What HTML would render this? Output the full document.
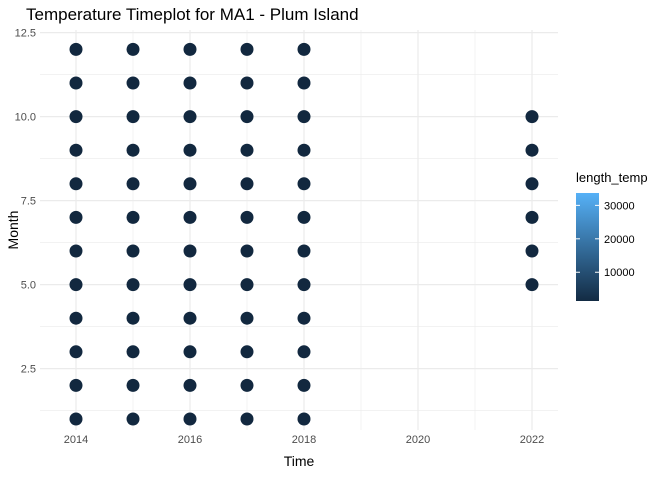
<!DOCTYPE html>
<html><head><meta charset="utf-8"><style>
body{margin:0;background:#fff;font-family:"Liberation Sans",sans-serif}
</style></head><body>
<svg width="672" height="480" xmlns="http://www.w3.org/2000/svg">
<defs><linearGradient id="g" x1="0" y1="1" x2="0" y2="0"><stop offset="0" stop-color="#132B43"/><stop offset="1" stop-color="#56B1F7"/></linearGradient></defs>
<text x="26" y="20" font-size="17" fill="#000">Temperature Timeplot for MA1 - Plum Island</text>
<g id="grid"></g><g id="pts"></g><g id="axes"></g>
<text x="299" y="466" font-size="14" text-anchor="middle">Time</text>
<text x="18" y="230" font-size="14" text-anchor="middle" transform="rotate(-90 18 230)">Month</text>
<g>
<text x="576" y="182" font-size="13">length_temp</text>
<rect x="576" y="193" width="23" height="108" fill="url(#g)"/>
<g id="leg"></g>
</g>
</svg>
<script>
const years=[2014,2015,2016,2017,2018,2022];
const monthsByYear=[[1,2,3,4,5,6,7,8,9,10,11,12],[1,2,3,4,5,6,7,8,9,10,11,12],[1,2,3,4,5,6,7,8,9,10,11,12],[1,2,3,4,5,6,7,8,9,10,11,12],[1,2,3,4,5,6,7,8,9,10,11,12],[5,6,7,8,9,10]];
const lengthTemp=[700,700,700,700,700,700];
const xTicks=[2014,2016,2018,2020,2022];
const yTicks=[2.5,5.0,7.5,10.0,12.5];
const legTicks=[10000,20000,30000];
const ns="http://www.w3.org/2000/svg";
const X=v=>76+(v-2014)*57;
const Y=v=>419-(v-1)*33.6;
const L=v=>301-(v-1400)*(108/32300);
function mk(t,a,p){const e=document.createElementNS(ns,t);for(const k in a)e.setAttribute(k,a[k]);document.getElementById(p).appendChild(e);return e;}
const x0=40,x1=558,y0=30,y1=430;
for(let v=2013;v<=2023;v++){if(X(v)<x0||X(v)>x1)continue;const e=mk('line',{x1:X(v),x2:X(v),y1:y0,y2:y1,stroke:'#ebebeb','stroke-width':v%2?0.6:1.2},'grid');

}
for(let v=1.25;v<=12.6;v+=1.25){const e=mk('line',{x1:x0,x2:x1,y1:Y(v),y2:Y(v),stroke:'#ebebeb','stroke-width':(Math.round(v/1.25)%2)?0.6:1.2},'grid');

}
function col(v){const t=(v-1400)/32300;const a=[0x13,0x2B,0x43],b=[0x56,0xB1,0xF7];return 'rgb('+a.map((c,i)=>Math.round(c+(b[i]-c)*t)).join(',')+')';}
years.forEach((y,i)=>monthsByYear[i].forEach(m=>{const e=mk('circle',{cx:X(y),cy:Y(m),r:6.5,fill:col(lengthTemp[i])},'pts');

}));
xTicks.forEach(v=>{const e=mk('text',{x:X(v),y:y1+13,'font-size':11,fill:'#4d4d4d','text-anchor':'middle'},'axes');e.textContent=v;

});
yTicks.forEach(v=>{const e=mk('text',{x:36,y:Y(v)+4,'font-size':11,fill:'#4d4d4d','text-anchor':'end'},'axes');e.textContent=v.toFixed(1);

});
legTicks.forEach(v=>{const a=mk('line',{x1:576,x2:580,y1:L(v),y2:L(v),stroke:'#fff'},'leg');


const b=mk('line',{x1:595,x2:599,y1:L(v),y2:L(v),stroke:'#fff'},'leg');


const e=mk('text',{x:604,y:L(v)+4,'font-size':11,fill:'#000'},'leg');e.textContent=v;

});
</script>
</body></html>
